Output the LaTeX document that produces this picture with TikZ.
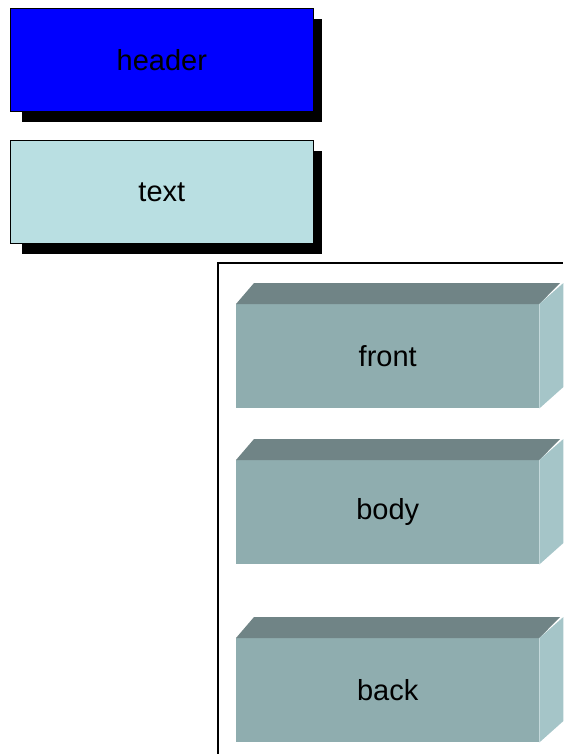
\documentclass[tikz,border=0pt]{standalone}
\usepackage{fontspec}
\setmainfont{Liberation Sans}
\definecolor{hdrblue}{HTML}{0000FF}
\definecolor{txtfill}{HTML}{B9DFE2}
\definecolor{frontc}{HTML}{8FADAF}
\definecolor{topc}{HTML}{708486}
\definecolor{sidec}{HTML}{A5C5C8}
\tikzset{
  flatbox/.style={draw=black, line width=0.7pt, minimum width=303pt, minimum height=103pt, inner sep=0pt, font=\fontsize{29}{34}\selectfont, anchor=north west},
  cubebox/.style={fill=frontc, draw=none, minimum width=303pt, minimum height=104pt, inner sep=0pt, font=\fontsize{29}{34}\selectfont, anchor=north west},
  shadowbox/.style={fill=black},
  topface/.style={fill=topc},
  sideface/.style={fill=sidec},
  framel/.style={draw=black, line width=1.6pt}
}
\begin{document}
\begin{tikzpicture}[x=1pt,y=-1pt]
\useasboundingbox (0,0) rectangle (563,754);
% header
\fill[shadowbox] (22,19) rectangle (322,122);
\node[flatbox, fill=hdrblue] (header) at (10,8) {header};
% text
\fill[shadowbox] (22,151) rectangle (322,254);
\node[flatbox, fill=txtfill] (text) at (10,140) {text};
% frame
\coordinate (fa) at (218,754);
\coordinate (fb) at (218,263);
\coordinate (fc) at (563,263);
\draw[framel] (fa) -- (fb) -- (fc);
% cubes
\foreach \nm/\y in {front/304, body/460, back/638}{
  \node[cubebox] (\nm) at (236,\y) {\nm};
  \fill[topface] (\nm.north west) -- ++(18,-21) -- ++(306,0) -- (\nm.north east) -- cycle;
  \fill[sideface] (\nm.north east) -- ++(24,-21) -- ++(0,104) -- (\nm.south east) -- cycle;
}
\end{tikzpicture}
\end{document}
